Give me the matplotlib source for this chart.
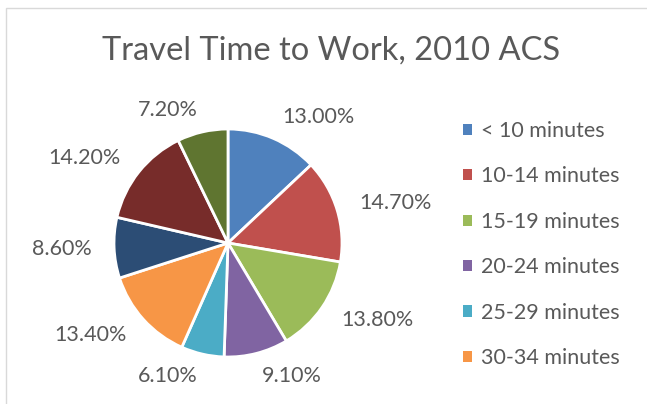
import matplotlib
matplotlib.use("Agg")
import matplotlib.pyplot as plt
from matplotlib.patches import Rectangle

plt.rcParams['font.family'] = ['Lato', 'DejaVu Sans']

title = "Travel Time to Work, 2010 ACS"
categories = ["< 10 minutes", "10-14 minutes", "15-19 minutes", "20-24 minutes",
              "25-29 minutes", "30-34 minutes", "35-39 minutes", "40-44 minutes",
              "45+ minutes"]
values = [13.00, 14.70, 13.80, 9.10, 6.10, 13.40, 8.60, 14.20, 7.20]
label_texts = ["13.00%", "14.70%", "13.80%", "9.10%", "6.10%", "13.40%",
               "8.60%", "14.20%", "7.20%"]
colors = ["#4F81BD", "#C0504D", "#9BBB59", "#8064A2", "#4BACC6", "#F79646",
          "#2C4D75", "#772C2A", "#5F7530"]
legend_count = 6  # only the first six entries are visible in the crop

W, H = 647, 404
fig = plt.figure(figsize=(W / 100, H / 100), dpi=100)
fig.patch.set_facecolor("white")

# chart area border (partially visible)
fig.patches.append(Rectangle((5.5 / W, -0.1), 1.2, (H - 7.5) / H + 0.1,
                             transform=fig.transFigure, fill=False,
                             edgecolor="#D9D9D9", linewidth=1.0))

text_color = "#595959"
fig.text(331 / W, 1 - 51 / H, title, ha="center", va="center",
         fontsize=23.5, color=text_color)

cx, cy, r = 228, 243, 114
ax = fig.add_axes([(cx - r) / W, (H - cy - r) / H, 2 * r / W, 2 * r / H])
wedges, texts = ax.pie(values, labels=label_texts, colors=colors,
                       startangle=90, counterclock=False, labeldistance=1.2,
                       wedgeprops=dict(edgecolor="white", linewidth=2.0),
                       textprops=dict(color=text_color, fontsize=15.5))
ax.set_xlim(-1, 1)
ax.set_ylim(-1, 1)
ax.set_aspect("equal")
ax.axis("off")

leg = fig.legend(wedges[:legend_count], categories[:legend_count],
                 loc="upper left", bbox_to_anchor=(463 / W, 1 - 121 / H),
                 frameon=False, fontsize=15.5, labelcolor=text_color,
                 handlelength=0.42, handleheight=0.42, handletextpad=0.4,
                 labelspacing=1.18, borderpad=0, borderaxespad=0)
for h in leg.legend_handles:
    h.set_edgecolor("none")

fig.savefig("out.png", dpi=100, facecolor="white")
